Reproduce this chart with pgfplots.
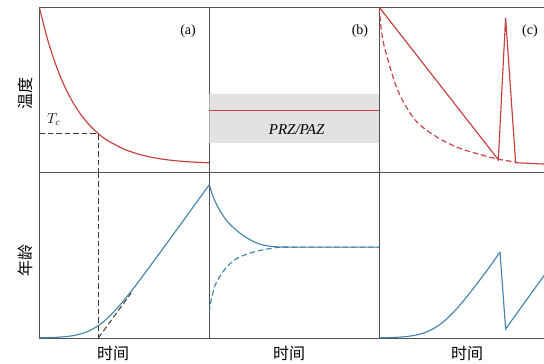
\documentclass[border=0pt]{standalone}
\usepackage{pgfplots}
\pgfplotsset{compat=1.18}
\usepackage{fontspec}
\setmainfont{Liberation Serif}
\newfontfamily\cjk{Noto Sans CJK SC}
\definecolor{myred}{RGB}{200,62,62}
\definecolor{myblue}{RGB}{72,132,170}
\definecolor{frame}{RGB}{80,80,80}
\definecolor{band}{RGB}{226,226,226}
\definecolor{dgray}{RGB}{60,60,60}
\pgfplotsset{panel/.style={scale only axis, width=170pt, height=165.3pt,
  xmin=0,xmax=10,ymin=0,ymax=10, ticks=none,
  axis line style={draw=frame, line width=1pt},
  clip mode=individual, anchor=north west},
  rl/.style={color=myred, line width=1.15pt},
  bl/.style={color=myblue, line width=1.15pt},
  dsh/.style={dash pattern=on 5.5pt off 3pt}}
\begin{document}
\begin{tikzpicture}
\path[use as bounding box] (0pt,0pt) rectangle (544pt,-364pt);
\clip (0pt,0pt) rectangle (544pt,-364pt);
% ---- (a) top
\begin{axis}[panel, at={(39.3pt,-7.3pt)}]
\addplot[rl, smooth] coordinates {(0,10) (0.5,8.01) (1,6.44) (1.5,5.19) (2,4.21) (2.5,3.43) (3,2.82) (3.5,2.33) (4,1.95) (5,1.41) (6,1.07) (7,0.85) (8,0.72) (9,0.64) (10,0.59)};
\addplot[dgray, line width=1pt, dsh] coordinates {(0,2.35) (3.47,2.35) (3.47,0)};
\node at (axis cs:8.75,8.55) {\fontsize{14}{16}\selectfont (a)};
\node at (axis cs:0.85,3.2) {\fontsize{14}{16}\selectfont $T_c$};
\end{axis}
% ---- (a) bottom
\begin{axis}[panel, at={(39.3pt,-172.7pt)}]
\addplot[dgray, line width=1pt, dsh] coordinates {(3.47,10) (3.47,0)};
\addplot[dgray, line width=1pt, dsh] coordinates {(3.47,0) (5.4,2.72)};
\addplot[bl, smooth] coordinates {(0,0.011) (0.5,0.021) (1,0.041) (1.5,0.078) (2,0.146) (2.5,0.266) (3,0.465) (3.5,0.770) (4,1.189) (4.5,1.710) (5,2.308) (5.5,2.954) (6,3.630) (7,5.024) (8,6.435) (9,7.853) (10,9.273)};
\end{axis}
% ---- (b) top
\begin{axis}[panel, at={(209.3pt,-7.3pt)}]
\addplot[fill=band, draw=none] coordinates {(0,1.82) (10,1.82) (10,4.75) (0,4.75)} -- cycle;
\addplot[rl] coordinates {(0,3.74) (10,3.74)};
\node at (axis cs:5.14,2.59) {\fontsize{15}{17}\selectfont\itshape PRZ/PAZ};
\node at (axis cs:8.86,8.55) {\fontsize{14}{16}\selectfont (b)};
\end{axis}
% ---- (b) bottom
\begin{axis}[panel, at={(209.3pt,-172.7pt)}]
\addplot[bl, smooth] coordinates {(0,9.3) (0.15,8.75) (0.35,8.25) (0.6,7.75) (1.0,7.12) (1.4,6.7) (1.8,6.35) (2.3,6.0) (2.88,5.71) (3.5,5.56) (4.06,5.51) (5,5.5) (10,5.5)};
\addplot[bl, dsh, smooth] coordinates {(0,1.56) (0.12,2.35) (0.34,3.18) (0.7,3.85) (1.12,4.39) (1.6,4.8) (2.29,5.1) (3.0,5.3) (3.67,5.42) (4.5,5.49) (10,5.5)};
\end{axis}
% ---- (c) top
\begin{axis}[panel, at={(379.3pt,-7.3pt)}]
\addplot[rl, dsh, smooth] coordinates {(0,10) (0.12,8.6) (0.34,7.44) (0.92,5.42) (1.4,4.3) (2.1,3.19) (2.8,2.55) (3.67,1.98) (4.6,1.52) (5.63,1.18) (7.0,0.81) (8,0.65)};
\addplot[rl] coordinates {(0,10) (7.0,0.78) (7.43,9.36) (8.02,0.6) (10,0.5)};
\node at (axis cs:8.86,8.55) {\fontsize{14}{16}\selectfont (c)};
\end{axis}
% ---- (c) bottom
\begin{axis}[panel, at={(379.3pt,-172.7pt)}]
\addplot[bl, smooth] coordinates {(0,0.011) (0.5,0.021) (1,0.041) (1.5,0.078) (2,0.146) (2.5,0.266) (3,0.465) (3.5,0.770) (4,1.189) (4.5,1.710) (5,2.308) (5.5,2.954) (6,3.630) (6.5,4.32) (7.1,5.2)};
\addplot[bl] coordinates {(7.1,5.2) (7.43,0.55) (10,4.22)};
\end{axis}
% labels
\node[rotate=90] at (25pt,-93pt) {\fontsize{16}{18}\selectfont\cjk 温度};
\node[rotate=90] at (25pt,-260pt) {\fontsize{16}{18}\selectfont\cjk 年龄};
\node at (113pt,-353.3pt) {\fontsize{16}{18}\selectfont\cjk 时间};
\node at (289pt,-353.3pt) {\fontsize{16}{18}\selectfont\cjk 时间};
\node at (467pt,-353.3pt) {\fontsize{16}{18}\selectfont\cjk 时间};
\end{tikzpicture}
\end{document}
